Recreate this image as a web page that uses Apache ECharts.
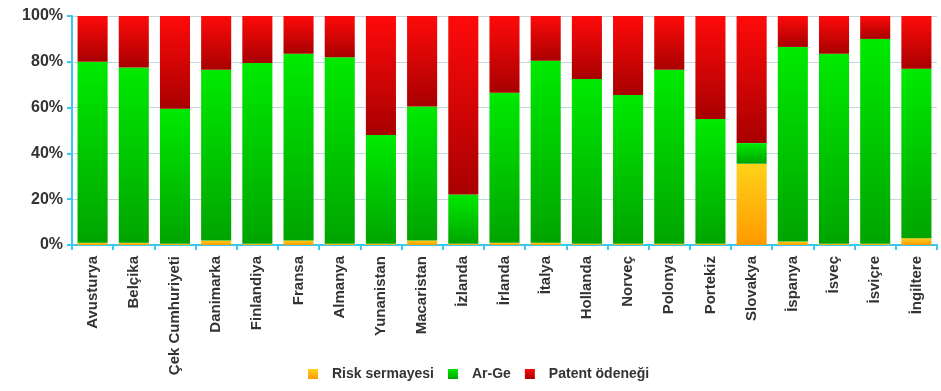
<!DOCTYPE html>
<html>
<head>
<meta charset="utf-8">
<script src="https://cdn.jsdelivr.net/npm/echarts@6/dist/echarts.min.js"></script>
<style>
  html, body { margin: 0; padding: 0; background: #ffffff; }
  #chart { width: 941px; height: 391px; }
</style>
</head>
<body>
<div id="chart"></div>
<script>
// Countries along the x axis
const countries = ['Avusturya', 'Belçika', 'Çek Cumhuriyeti', 'Danimarka', 'Finlandiya', 'Fransa',
  'Almanya', 'Yunanistan', 'Macaristan', 'İzlanda', 'İrlanda', 'İtalya', 'Hollanda', 'Norveç',
  'Polonya', 'Portekiz', 'Slovakya', 'İspanya', 'İsveç', 'İsviçre', 'İngiltere'];

// Share of each support instrument (%), stacked to 100
const riskSermayesi = [1, 1, 0.5, 2, 0.5, 2, 0.5, 0.5, 2, 0.5, 1, 1, 0.5, 0.5, 0.5, 0.5, 35.5, 1.5, 0.5, 0.5, 3];
const arGe = [79, 76.5, 59, 74.5, 79, 81.5, 81.5, 47.5, 58.5, 21.5, 65.5, 79.5, 72, 65, 76, 54.5, 9, 85, 83, 89.5, 74];
const patentOdenegi = [20, 22.5, 40.5, 23.5, 20.5, 16.5, 18, 52, 39.5, 78, 33.5, 19.5, 27.5, 34.5, 23.5, 45, 55.5, 13.5, 16.5, 10, 23];

const yTicks = [0, 20, 40, 60, 80, 100];

const axisBlue = '#38c8f0';
const font = 'Liberation Sans, Arial, sans-serif';

function vgrad(top, bottom) {
  return new echarts.graphic.LinearGradient(0, 0, 0, 1, [
    { offset: 0, color: top },
    { offset: 1, color: bottom }
  ]);
}

const chart = echarts.init(document.getElementById('chart'), null, { renderer: 'canvas' });

chart.setOption({
  backgroundColor: '#ffffff',
  animation: false,
  grid: { left: 72, right: 4, top: 16, bottom: 146, containLabel: false },
  legend: {
    data: ['Risk sermayesi', 'Ar-Ge', 'Patent ödeneği'],
    left: 303,
    top: 362,
    icon: 'rect',
    itemWidth: 10,
    itemHeight: 10,
    itemGap: 14,
    textStyle: {
      fontFamily: font, fontSize: 14, fontWeight: 'bold', color: '#333',
      padding: [0, 0, 0, 9]
    }
  },
  xAxis: {
    type: 'category',
    data: countries,
    axisLine: { show: true, lineStyle: { color: axisBlue, width: 2 } },
    axisTick: { show: true, length: 5, lineStyle: { color: axisBlue, width: 2 } },
    axisLabel: {
      rotate: 90,
      interval: 0,
      margin: 11,
      fontFamily: font,
      fontSize: 15,
      fontWeight: 'bold',
      color: '#333'
    }
  },
  yAxis: {
    type: 'value',
    min: yTicks[0],
    max: yTicks[yTicks.length - 1],
    interval: 20,
    axisLine: { show: true, lineStyle: { color: axisBlue, width: 2 } },
    axisTick: { show: true, length: 5, lineStyle: { color: axisBlue, width: 2 } },
    splitLine: { show: true, lineStyle: { color: '#c2d6e2', width: 1 } },
    axisLabel: {
      formatter: '{value}%',
      margin: 9,
      fontFamily: font,
      fontSize: 16,
      fontWeight: 'bold',
      color: '#333'
    }
  },
  series: [
    {
      name: 'Risk sermayesi',
      type: 'bar',
      stack: 'total',
      barCategoryGap: '27%',
      data: riskSermayesi,
      itemStyle: { color: vgrad('#ffd21a', '#ff9a00') }
    },
    {
      name: 'Ar-Ge',
      type: 'bar',
      stack: 'total',
      data: arGe,
      itemStyle: { color: vgrad('#00ea00', '#00a400') }
    },
    {
      name: 'Patent ödeneği',
      type: 'bar',
      stack: 'total',
      data: patentOdenegi,
      itemStyle: { color: vgrad('#ff0a0a', '#a80000') }
    }
  ]
});
</script>
</body>
</html>
